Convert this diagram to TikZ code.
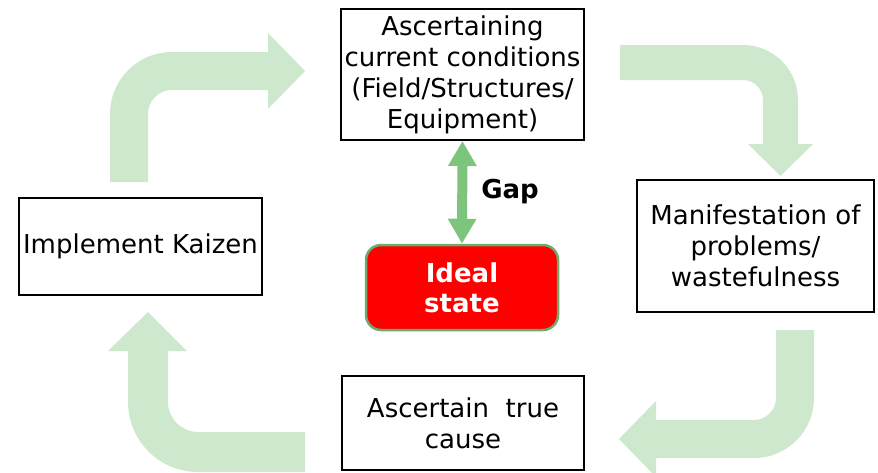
\documentclass[tikz,border=0pt]{standalone}
\usepackage{fontspec}
\setmainfont{DejaVu Sans}
\usetikzlibrary{arrows.meta}
\definecolor{cyclegreen}{HTML}{CDE8CD}
\definecolor{gapgreen}{HTML}{7DC47D}
\definecolor{idealborder}{HTML}{6DAA6D}
\definecolor{idealred}{HTML}{FF0000}
\tikzset{
  stagebox/.style={draw=black, line width=2pt, fill=white, align=center, inner sep=0pt,
    font=\fontsize{26}{31}\selectfont},
  idealbox/.style={draw=idealborder, line width=2.5pt, fill=idealred, rounded corners=15pt,
    align=center, inner sep=0pt, text=white, font=\fontsize{26}{30}\selectfont\bfseries},
  cyclearrow/.style={fill=cyclegreen, draw=none},
  gaparrow/.style={draw=gapgreen, line width=10pt,
    {Triangle[width=27pt,length=25pt]}-{Triangle[width=27pt,length=25pt]}},
  gaptext/.style={font=\fontsize{26}{31}\selectfont\bfseries, inner sep=0pt}
}
\begin{document}
\begin{tikzpicture}[x=1pt,y=-1pt]
\useasboundingbox (0,0) rectangle (878,472);
\clip (0,0) rectangle (878,472);

% cycle arrows
\fill[cyclearrow] (110,182) -- (110,114) arc[start angle=180, end angle=270, radius=62]
  -- (268,52) -- (268,33) -- (305,71) -- (268,109) -- (268,90) -- (172,90)
  arc[start angle=270, end angle=180, radius=24] -- (148,182) -- cycle;
\fill[cyclearrow] (620,45) -- (743,45) arc[start angle=270, end angle=360, radius=55]
  -- (798,144) -- (813,144) -- (780.5,176) -- (748,144) -- (763,144) -- (763,100)
  arc[start angle=0, end angle=-90, radius=20] -- (620,80) -- cycle;
\fill[cyclearrow] (776,330) -- (814,330) -- (814,398) arc[start angle=0, end angle=90, radius=60]
  -- (656,458) -- (656,477) -- (619,439) -- (656,401) -- (656,420) -- (754,420)
  arc[start angle=90, end angle=0, radius=22] -- cycle;
\fill[cyclearrow] (305,432) -- (198,432) arc[start angle=90, end angle=180, radius=30]
  -- (168,351) -- (187,351) -- (148,312) -- (108,351) -- (128,351) -- (128,402)
  arc[start angle=180, end angle=90, radius=70] -- (305,472) -- cycle;

% boxes
\node[stagebox, minimum width=243pt, minimum height=131pt] (current) at (462.5,74.5)
  {Ascertaining\\current conditions\\(Field/Structures/\\Equipment)};
\node[stagebox, minimum width=243pt, minimum height=97pt] (kaizen) at (140.5,246.5)
  {Implement Kaizen};
\node[stagebox, minimum width=237pt, minimum height=132pt] (manifest) at (755.5,246)
  {Manifestation of\\problems/\\wastefulness};
\node[stagebox, minimum width=242pt, minimum height=94pt] (cause) at (463,423)
  {Ascertain\ \ true\\cause};
\node[idealbox, minimum width=192pt, minimum height=85pt] (ideal) at (462,287.5)
  {Ideal\\state};

% gap arrow
\draw[gaparrow] (current.south) -- (ideal.north);
\node[gaptext] (gaplabel) at (510,192) {Gap};
\end{tikzpicture}
\end{document}
